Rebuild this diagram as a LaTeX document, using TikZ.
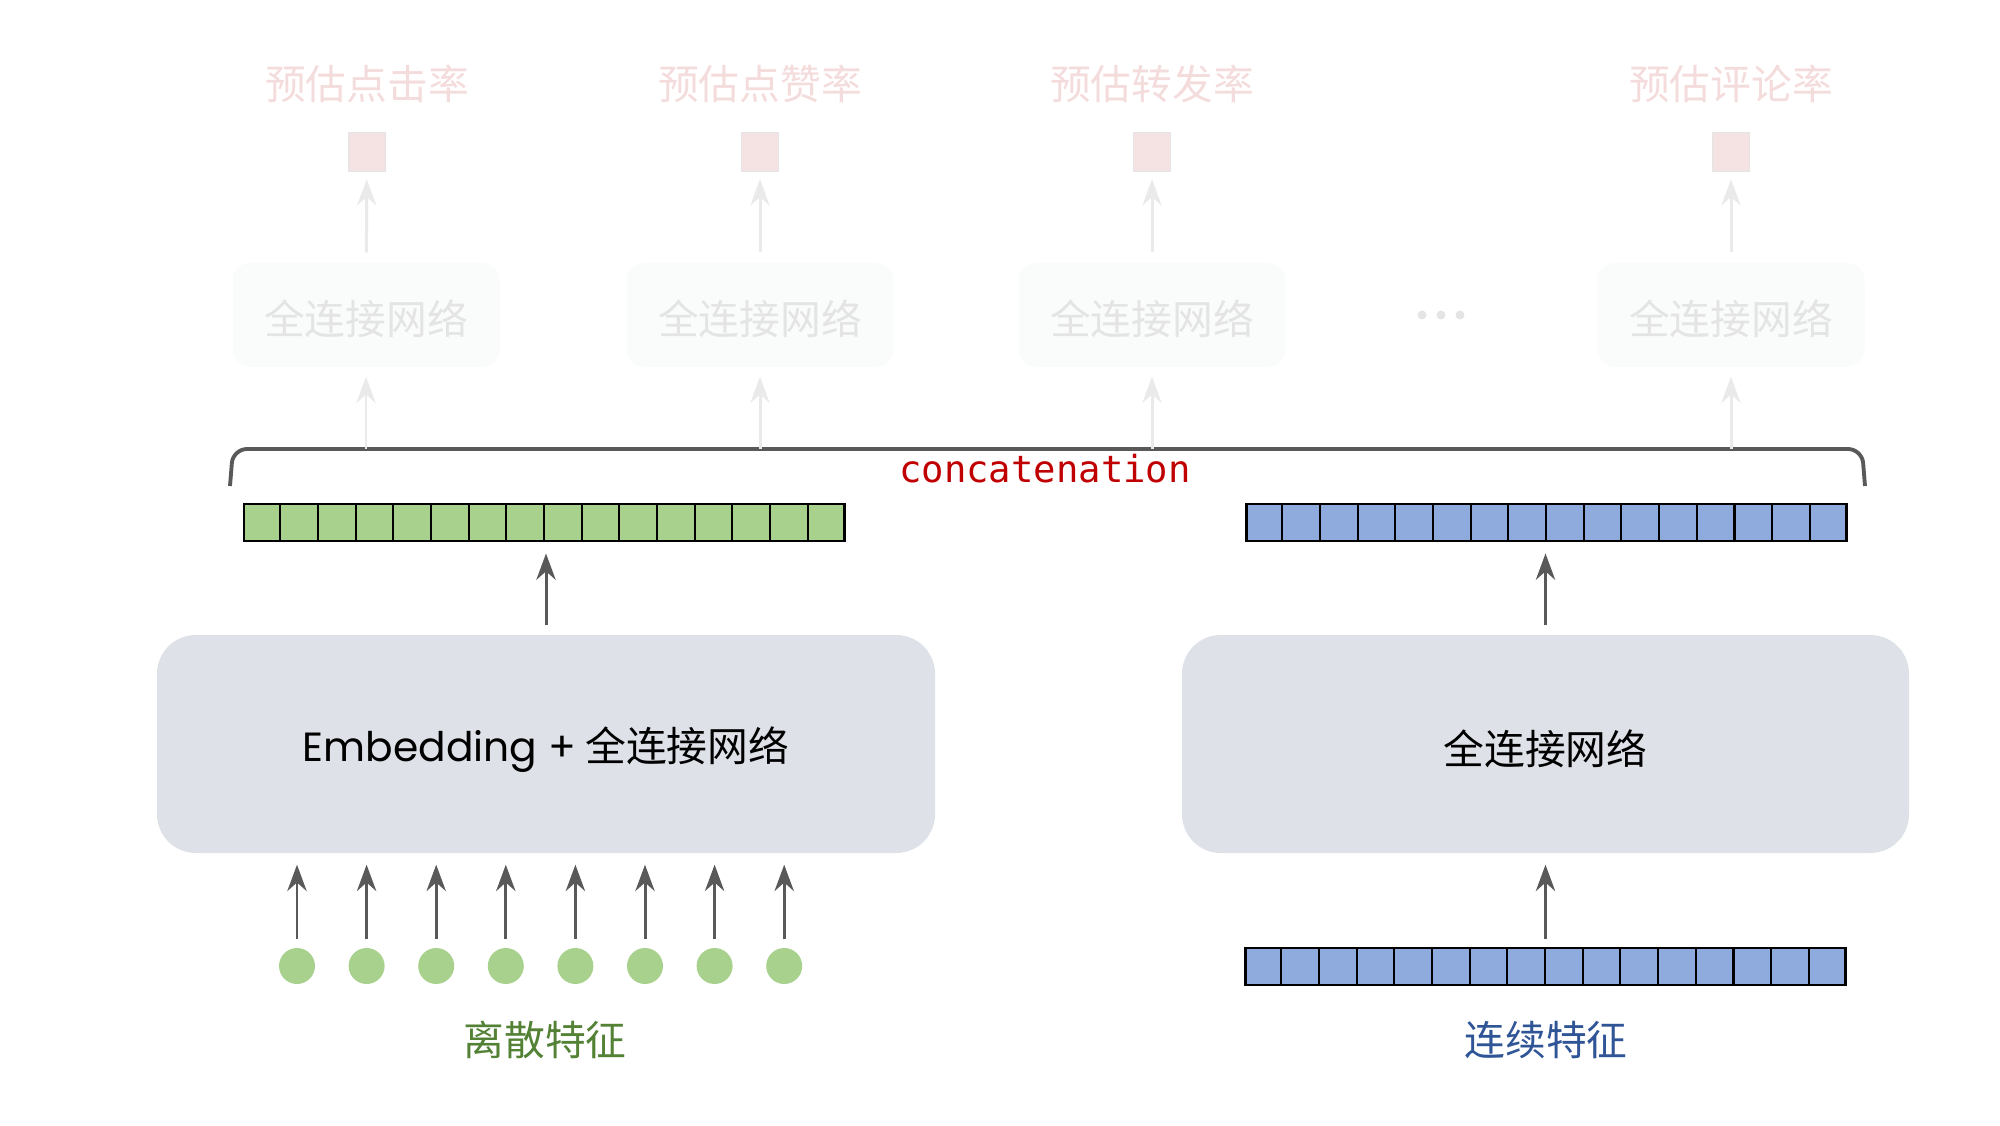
\documentclass[tikz,border=0pt]{standalone}
\usepackage{fontspec}
\usepackage{xcolor}
\newfontfamily\cjk{Noto Sans CJK SC}
\newfontfamily\geo{Poppins}
\setmonofont{DejaVu Sans Mono}
\usetikzlibrary{positioning,arrows.meta,calc}
\definecolor{arrowgray}{HTML}{595959}
\definecolor{faintgray}{HTML}{EAEAEA}
\definecolor{boxgray}{HTML}{DEE2E8}
\definecolor{headfill}{HTML}{FAFBFB}
\definecolor{headtext}{HTML}{E4E4E4}
\definecolor{ratetext}{HTML}{F4DCDC}
\definecolor{ratefill}{HTML}{F5E3E3}
\definecolor{cellgreen}{HTML}{A9D18E}
\definecolor{cellblue}{HTML}{8FAADC}
\definecolor{labgreen}{HTML}{538135}
\definecolor{labblue}{HTML}{2F5597}
\definecolor{concatred}{HTML}{C00000}
\newcommand{\cjksize}{\cjk\fontsize{11.6}{14}\selectfont}
\newcommand{\sinktext}[2]{\raisebox{-#1}[\height][\depth]{#2}}

\begin{document}
\begin{tikzpicture}[
    arr/.style={line width=0.85pt,draw=arrowgray,-{Stealth[length=7.5pt,width=5.5pt]}},
    faintarr/.style={arr,draw=faintgray},
    bigbox/.style={fill=boxgray,rounded corners=11pt,minimum height=2.18cm,font=\cjksize},
    head/.style={fill=headfill,rounded corners=5pt,minimum width=2.67cm,minimum height=1.04cm,text=headtext,font=\cjksize},
    rate/.style={text=ratetext,font=\cjksize},
    outsq/.style={fill=ratefill,draw=headtext,line width=0.4pt,minimum width=0.37cm,minimum height=0.39cm,inner sep=0pt},
    vec/.style={draw=black,line width=0.85pt,minimum width=6cm,minimum height=0.37cm,inner sep=0pt},
    feat/.style={circle,fill=cellgreen,minimum size=0.36cm,inner sep=0pt},
    bracket/.style={draw=arrowgray,line width=1.1pt,rounded corners=4pt}
]
\useasboundingbox (0,0) rectangle (20,11.25);

% task towers
\node[rate] (r1) at (3.67,10.41) {预估点击率};
\node[rate] (r2) at (7.60,10.41) {预估点赞率};
\node[rate] (r3) at (11.52,10.41) {预估转发率};
\node[rate] (r4) at (17.31,10.41) {预估评论率};

\node[outsq] (o1) at (3.67,9.73) {};
\node[outsq] (o2) at (7.60,9.73) {};
\node[outsq] (o3) at (11.52,9.73) {};
\node[outsq] (o4) at (17.31,9.73) {};

\node[head] (h1) at (3.66,8.10) {\sinktext{0.04cm}{全连接网络}};
\node[head] (h2) at (7.60,8.10) {\sinktext{0.04cm}{全连接网络}};
\node[head] (h3) at (11.52,8.10) {\sinktext{0.04cm}{全连接网络}};
\node[head] (h4) at (17.31,8.10) {\sinktext{0.04cm}{全连接网络}};
\foreach \x in {14.22,14.41,14.60}
    \fill[headtext] (\x,8.10) circle (0.045);

\foreach \i in {1,...,4}
    \draw[faintarr,shorten <=0.1cm,shorten >=0.07cm] (h\i) -- (o\i);

% concatenation
\coordinate (brace) at (10,6.76);
\draw[bracket] (2.30,6.39) -- (2.33,6.76) -- (18.62,6.76) -- (18.65,6.39);
\node[font=\ttfamily\fontsize{10.6}{12}\selectfont,text=concatred] (cat) at (10.45,6.56) {concatenation};
\foreach \i in {1,...,4}
    \draw[faintarr,shorten >=0.09cm] (h\i |- brace) -- (h\i);

\node[vec,fill=cellgreen] (gvec) at (5.44,6.025) {};
\node[vec,fill=cellblue] (bvec) at (15.46,6.025) {};
\node[vec,fill=cellblue] (cvec) at (15.45,1.585) {};
\foreach \v in {gvec,bvec,cvec}
    \foreach \i in {1,...,15}
        \draw[line width=0.6pt] ($(\v.south west)!\i/16!(\v.south east)$) -- ($(\v.north west)!\i/16!(\v.north east)$);

% bottom networks
\node[bigbox,minimum width=7.78cm] (lbox) at (5.46,3.81) {\sinktext{0.06cm}{{\geo Embedding +} 全连接网络}};
\node[bigbox,minimum width=7.27cm] (rbox) at (15.455,3.81) {\sinktext{0.05cm}{全连接网络}};

\draw[arr,shorten <=0.09cm,shorten >=0.11cm] (lbox.north) -- (lbox.north |- gvec.south);
\draw[arr,shorten <=0.09cm,shorten >=0.11cm] (rbox.north) -- (rbox.north |- bvec.south);

\foreach \i in {0,...,7}{
    \node[feat] (f\i) at (2.97+\i*0.696,1.59) {};
    \draw[arr,shorten <=0.08cm,shorten >=0.11cm] (f\i) -- (f\i |- lbox.south);
}
\draw[arr,shorten <=0.08cm,shorten >=0.11cm] (rbox.south |- cvec.north) -- (rbox.south);

\node[font=\cjksize,text=labgreen] (dlab) at (5.45,0.85) {离散特征};
\node[font=\cjksize,text=labblue] (clab) at (15.46,0.85) {连续特征};
\end{tikzpicture}
\end{document}
